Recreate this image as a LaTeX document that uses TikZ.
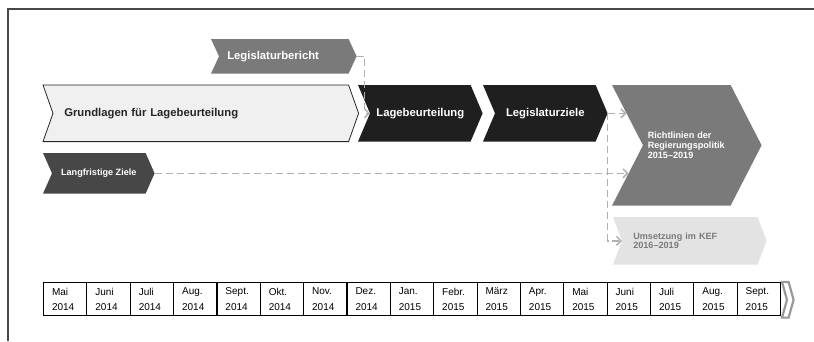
\documentclass[tikz,border=0pt]{standalone}
\usepackage{fontspec}
\setmainfont{Liberation Sans}
\usetikzlibrary{arrows.meta, backgrounds, calc}

\definecolor{midgrey}{HTML}{7A7A7A}
\definecolor{darkgrey}{HTML}{474747}
\definecolor{nearblack}{HTML}{1F1F1F}
\definecolor{palegrey}{HTML}{F0F0F0}
\definecolor{lightgrey}{HTML}{E3E3E3}
\definecolor{dashgrey}{HTML}{B0B0B0}
\definecolor{framegrey}{HTML}{474747}

% chevron round a node: #1 node, #2 depth of tip and notch, #3 path options
\newcommand{\chevron}[3]{%
  \path[#3] ([xshift=-#2]#1.north west) -- (#1.north east) -- ([xshift=#2]#1.east)
    -- (#1.south east) -- ([xshift=-#2]#1.south west) -- (#1.west) -- cycle;}

\begin{document}
\begin{tikzpicture}[
            x = 1pt, y = -1pt, % pixel grid, y runs downwards
            > = {Straight Barb[length=4.5pt, width=9pt]}, % open arrow head
            semithick % line style
        ]

        \tikzstyle{phase}=[
            rectangle,
            anchor = north west,
            inner xsep = 0pt,
            inner ysep = 0pt,
            text = white,
            font = \bfseries\fontsize{11.3}{13}\selectfont
        ]
        \tikzstyle{small}=[font = \bfseries\fontsize{9.1}{9.8}\selectfont]
        \tikzstyle{month}=[
            rectangle, draw, line width = 1.1pt,
            anchor = north west,
            minimum width = 43.353pt, minimum height = 33pt,
            inner xsep = 8.5pt, inner ysep = 0pt,
            text width = 26.35pt, align = left,
            font = \fontsize{10}{15.2}\selectfont
        ]
        \tikzstyle{link}=[->, dashgrey, line width = 1.5pt, dash pattern = on 7pt off 4pt]

        \useasboundingbox (0,0) rectangle (814,341);
        \draw[framegrey, line width = 2pt] (8,341) -- (8,9) -- (814,9);

        % phases
        \node[phase, minimum width = 129pt, minimum height = 34pt, text width = 113pt,
              inner xsep = 8pt, align = left] (bericht) at (219,39) {Legislaturbericht};
        \node[phase, minimum width = 295pt, minimum height = 56pt, text width = 273pt,
              inner xsep = 11pt, align = left, text = black!85] (grund) at (53,85)
              {Grundlagen für Lagebeurteilung};
        \node[phase, minimum width = 100pt, minimum height = 56pt] (lage) at (370,85) {Lagebeurteilung};
        \node[phase, minimum width = 100pt, minimum height = 56pt] (legis) at (495,85) {Legislaturziele};
        \node[phase, small, minimum width = 87pt, minimum height = 120pt, text width = 78pt,
              inner xsep = 4.5pt, align = left] (richt) at (643,85)
              {Richtlinien der\\Regierungspolitik\\2015--2019};
        \node[phase, small, minimum width = 135pt, minimum height = 47pt, text width = 113pt,
              inner xsep = 11pt, align = left, text = midgrey] (umset) at (622,217)
              {Umsetzung im KEF\\2016--2019};
        \node[phase, small, minimum width = 93pt, minimum height = 40pt] (lang) at (52,153) {Langfristige Ziele};

        % time line
        \foreach \mon/\yr [count=\i from 0] in {Mai/2014, Juni/2014, Juli/2014, Aug./2014,
            Sept./2014, Okt./2014, Nov./2014, Dez./2014, Jan./2015, Febr./2015, März/2015,
            Apr./2015, Mai/2015, Juni/2015, Juli/2015, Aug./2015, Sept./2015}
            \node[month] (m\i) at ({43+\i*43.353}, 282) {\mon\\\yr};
        \node[rectangle, anchor = north west, inner sep = 0pt, minimum width = 1pt,
              minimum height = 35pt] (weiter) at (787,282) {};

        \begin{pgfonlayer}{background}
            \chevron{bericht}{8pt}{fill = midgrey}
            \chevron{grund}{10pt}{fill = palegrey, draw = black!85, line width = 0.8pt}
            \chevron{lage}{12pt}{fill = nearblack}
            \chevron{legis}{12pt}{fill = nearblack}
            \chevron{richt}{31pt}{fill = midgrey}
            \chevron{umset}{9pt}{fill = lightgrey}
            \chevron{lang}{9pt}{fill = darkgrey}
            \chevron{weiter}{5pt}{fill = white, draw = black!40, line width = 2.2pt}
        \end{pgfonlayer}

        % points on the slanted left edge of the guidelines
        \coordinate (richt-nw) at ([xshift=-31pt]richt.north west);
        \coordinate (richt-sw) at ([xshift=-31pt]richt.south west);
        \coordinate (richt-top) at ($(richt.west)!0.533!(richt-nw)$);
        \coordinate (richt-mid) at ($(richt.west)!0.467!(richt-sw)$);
        \coordinate (bericht-tip) at ([xshift=8pt]bericht.east);
        \coordinate (legis-tip) at ([xshift=12pt]legis.east);
        \coordinate (lang-tip) at ([xshift=9pt]lang.east);

        \draw[link] (bericht-tip) -- ++(8,0) |- (lage.west);
        \draw[link] (legis-tip) -- (legis-tip -| richt-top);
        \draw[link] (legis-tip) |- (umset.west);
        \draw[link] (lang-tip) -- (lang-tip -| richt-mid);

  \end{tikzpicture}
\end{document}
